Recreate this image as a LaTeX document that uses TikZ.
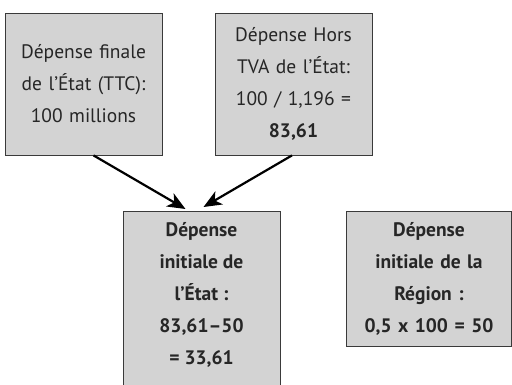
\documentclass[tikz,border=0pt]{standalone}
\usepackage{fontspec}
\setmainfont{PT Sans}
\usetikzlibrary{arrows.meta}
\definecolor{boxfill}{HTML}{D3D3D3}
\definecolor{boxline}{HTML}{3A3A3A}
\definecolor{txt}{HTML}{262626}
\tikzset{
  box/.style={draw=boxline, line width=0.8pt, fill=boxfill, rectangle, align=center,
    text=txt, inner sep=0pt, font=\fontsize{19.5}{32}\selectfont},
  arr/.style={draw=black, line width=2.2pt, -{Stealth[length=18pt,width=15pt,inset=5pt]}}
}
\begin{document}
\begin{tikzpicture}[x=1pt,y=1pt]
\useasboundingbox (0,0) rectangle (512,-385);
\clip (0,0) rectangle (512,-385);
\node[box, minimum width=157, minimum height=142, text width=155] (a) at (83.5,-84)
  {Dépense finale\\ de l’État (TTC):\\ 100 millions};
\node[box, minimum width=157, minimum height=142, text width=155] (b) at (293.5,-84)
  {Dépense Hors\\ TVA de l’État:\\ 100 / 1,196 =\\ \textbf{83,61}};
\node[box, minimum width=157, minimum height=184, text width=150, anchor=north] (c) at (201.5,-211) {};
\node[align=center, text=txt, font=\fontsize{19.5}{32}\selectfont\bfseries, anchor=north, inner sep=0pt] (ct) at (201.5,-222)
  {Dépense\\ initiale de\\ l’État :\\ 83,61–50\\ = 33,61};
\node[box, minimum width=165.5, minimum height=135, text width=163, font=\fontsize{19.5}{32}\selectfont\bfseries] (d) at (429,-278.5)
  {Dépense\\ initiale de la\\ Région :\\ 0,5 x 100 = 50};
\draw[arr] ([xshift=10pt]a.south) -- ([xshift=-16pt,yshift=2pt]c.north);
\draw[arr] ([xshift=-1.5pt]b.south) -- ([xshift=2pt,yshift=4pt]c.north);
\end{tikzpicture}
\end{document}
